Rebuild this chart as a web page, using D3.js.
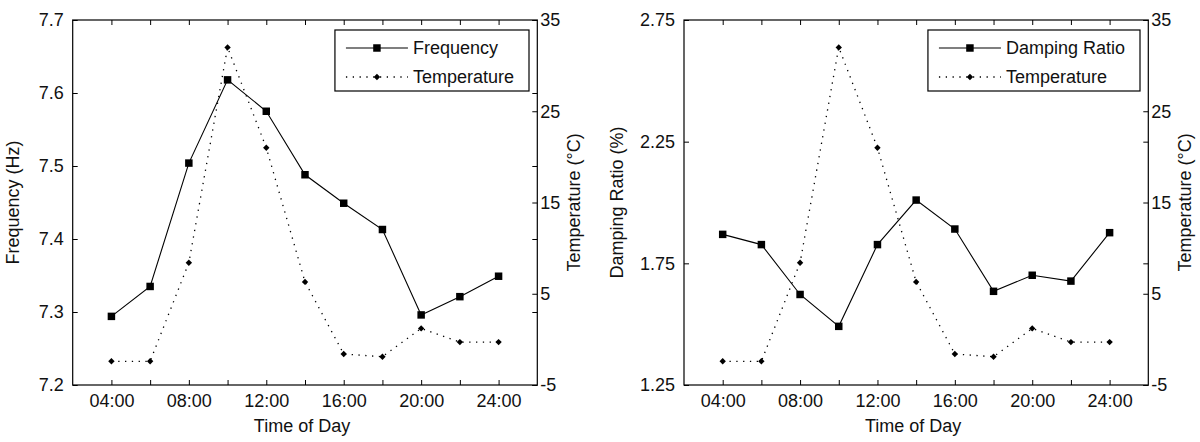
<!DOCTYPE html>
<html>
<head>
<meta charset="utf-8">
<script src="https://cdn.jsdelivr.net/npm/d3@7"></script>
<style>
  body { margin: 0; background: #fff; }
  svg text { font-family: "Liberation Sans", Arial, sans-serif; fill: #111; }
</style>
</head>
<body>
<div id="container"></div>
<script>
// hours of day and measured values
const hours = [4, 6, 8, 10, 12, 14, 16, 18, 20, 22, 24];
const frequency = [7.294, 7.335, 7.504, 7.618, 7.575, 7.488, 7.449, 7.413, 7.296, 7.321, 7.349];
const damping = [1.869, 1.827, 1.622, 1.491, 1.827, 2.010, 1.891, 1.635, 1.701, 1.677, 1.876];
const temperature = [-2.4, -2.4, 8.4, 32.0, 21.0, 6.3, -1.6, -1.9, 1.2, -0.3, -0.3];

const hourTicks = [4, 6, 8, 10, 12, 14, 16, 18, 20, 22, 24];
const hourLabels = ["04:00", "", "08:00", "", "12:00", "", "16:00", "", "20:00", "", "24:00"];
const freqTicks = [7.2, 7.3, 7.4, 7.5, 7.6, 7.7];
const freqLabels = ["7.2", "7.3", "7.4", "7.5", "7.6", "7.7"];
const dampTicks = [1.25, 1.75, 2.25, 2.75];
const dampLabels = ["1.25", "1.75", "2.25", "2.75"];
const tempTicks = [-5, 5, 15, 25, 35];
const tempLabels = ["-5", "5", "15", "25", "35"];

const w = 1200;
const h = 442;
const plotTop = 20;
const plotBottom = 385;
const fs = "18px";

const svg = d3.select("#container").append("svg")
  .attr("width", w)
  .attr("height", h);

const diamond = d3.symbol(d3.symbolDiamond2, 26);
const square = d3.symbol(d3.symbolSquare, 56);

function drawPanel(left, right, values, ticks, labels, title, titleX, name) {
  const x = d3.scaleLinear().domain([2, 26]).range([left, right]);
  const y = d3.scaleLinear().domain([ticks[0], ticks[ticks.length - 1]]).range([plotBottom, plotTop]);
  const yt = d3.scaleLinear().domain([-5, 35]).range([plotBottom, plotTop]);
  const g = svg.append("g");

  const fmt = (arr, lab) => (d) => lab[arr.indexOf(d)];

  g.append("g").attr("transform", `translate(0,${plotBottom})`)
    .call(d3.axisBottom(x).tickValues(hourTicks).tickFormat(fmt(hourTicks, hourLabels))
      .tickSize(-5).tickSizeOuter(0).tickPadding(9));
  g.append("g").attr("transform", `translate(0,${plotTop})`)
    .call(d3.axisTop(x).tickValues(hourTicks).tickFormat("").tickSize(-5).tickSizeOuter(0));
  g.append("g").attr("transform", `translate(${left},0)`)
    .call(d3.axisLeft(y).tickValues(ticks).tickFormat(fmt(ticks, labels))
      .tickSize(-5).tickSizeOuter(0).tickPadding(9));
  g.append("g").attr("transform", `translate(${right},0)`)
    .call(d3.axisRight(y).tickValues(ticks).tickFormat("").tickSize(-5).tickSizeOuter(0));
  g.append("g").attr("transform", `translate(${right},0)`)
    .call(d3.axisRight(yt).tickValues(tempTicks).tickFormat(fmt(tempTicks, tempLabels))
      .tickSize(-5).tickSizeOuter(0).tickPadding(3));

  g.selectAll(".tick text").attr("font-family", null).style("font-size", fs).attr("fill", "#111");
  g.selectAll(".tick line").attr("stroke", "#000");
  g.selectAll(".domain").remove();

  g.append("rect")
    .attr("x", left).attr("y", plotTop)
    .attr("width", right - left).attr("height", plotBottom - plotTop)
    .attr("fill", "none").attr("stroke", "#000").attr("stroke-width", 1.2);

  // temperature, dotted
  g.append("path")
    .datum(temperature)
    .attr("fill", "none").attr("stroke", "#000").attr("stroke-width", 1.3)
    .attr("stroke-dasharray", "1.3,5.5")
    .attr("d", d3.line().x((d, i) => x(hours[i])).y(d => yt(d)));
  g.selectAll(".dia").data(temperature).enter().append("path")
    .attr("transform", (d, i) => `translate(${x(hours[i])},${yt(d)})`)
    .attr("d", diamond);

  // main series, solid
  g.append("path")
    .datum(values)
    .attr("fill", "none").attr("stroke", "#000").attr("stroke-width", 1.1)
    .attr("d", d3.line().x((d, i) => x(hours[i])).y(d => y(d)));
  g.selectAll(".sq").data(values).enter().append("path")
    .attr("transform", (d, i) => `translate(${x(hours[i])},${y(d)})`)
    .attr("d", square);

  g.append("text")
    .attr("x", (left + right) / 2 - 3).attr("y", 431.5)
    .attr("text-anchor", "middle").style("font-size", fs)
    .text("Time of Day");
  g.append("text")
    .attr("transform", `translate(${titleX},${(plotTop + plotBottom) / 2}) rotate(-90)`)
    .attr("text-anchor", "middle").style("font-size", fs)
    .text(title);
  g.append("text")
    .attr("transform", `translate(${right + 43},${(plotTop + plotBottom) / 2}) rotate(-90)`)
    .attr("text-anchor", "middle").style("font-size", fs)
    .text("Temperature (°C)");

  // legend
  const lg = g.append("g");
  const box = lg.append("rect").attr("fill", "#fff").attr("stroke", "#000").attr("stroke-width", 1.2);
  const t1 = lg.append("text").attr("x", 78).attr("y", 18 + 6).style("font-size", fs).text(name);
  const t2 = lg.append("text").attr("x", 78).attr("y", 47 + 6).style("font-size", fs).text("Temperature");
  lg.append("line").attr("x1", 11).attr("x2", 73).attr("y1", 18).attr("y2", 18)
    .attr("stroke", "#000").attr("stroke-width", 1.1);
  lg.append("path").attr("transform", "translate(42,18)").attr("d", square);
  lg.append("line").attr("x1", 11).attr("x2", 73).attr("y1", 47).attr("y2", 47)
    .attr("stroke", "#000").attr("stroke-width", 1.3).attr("stroke-dasharray", "1.3,5.5");
  lg.append("path").attr("transform", "translate(42,47)").attr("d", diamond);
  const bw = 78 + Math.max(t1.node().getComputedTextLength(), t2.node().getComputedTextLength()) + 15;
  box.attr("width", bw).attr("height", 61);
  lg.attr("transform", `translate(${right - 8.3 - bw},${plotTop + 10})`);
}

drawPanel(72.7, 537.3, frequency, freqTicks, freqLabels, "Frequency (Hz)", 19, "Frequency");
drawPanel(684, 1148.3, damping, dampTicks, dampLabels, "Damping Ratio (%)", 623, "Damping Ratio");
</script>
</body>
</html>
